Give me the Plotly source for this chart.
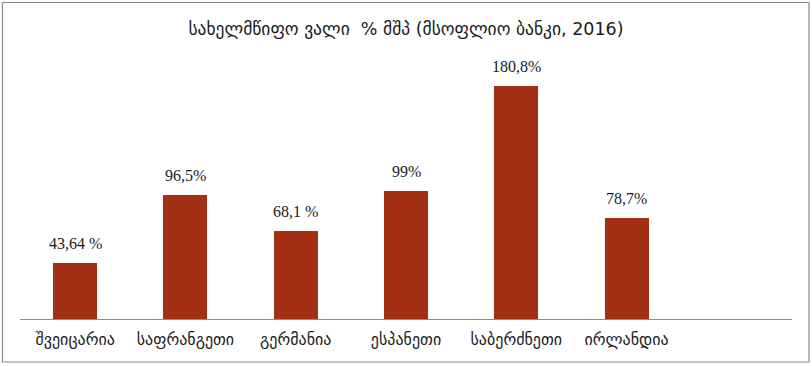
import plotly.graph_objects as go

categories = ["შვეიცარია", "საფრანგეთი", "გერმანია", "ესპანეთი", "საბერძნეთი", "ირლანდია"]
values = [43.64, 96.5, 68.1, 99, 180.8, 78.7]
labels = ["43,64 %", "96,5%", "68,1 %", "99%", "180,8%", "78,7%"]
title = "სახელმწიფო ვალი  % მშპ (მსოფლიო ბანკი, 2016)"

x = list(range(len(categories)))

fig = go.Figure(go.Bar(
    x=x, y=values, width=0.4,
    marker=dict(color="#A33015", line=dict(width=0)),
    hoverinfo="skip",
))

for xi, yi, lab in zip(x, values, labels):
    fig.add_annotation(x=xi, y=yi, text=lab, showarrow=False,
                       xanchor="center", yanchor="bottom", yshift=9,
                       font=dict(family="Liberation Serif", size=16, color="#1a1a1a"))

fig.update_layout(
    width=812, height=366,
    margin=dict(l=20, r=20, t=60, b=47),
    paper_bgcolor="white", plot_bgcolor="white",
    title=dict(text=title, x=0.5, xanchor="center", y=0.922, yanchor="middle",
               font=dict(family="DejaVu Sans", size=17.5, color="#1a1a1a")),
    showlegend=False,
    bargap=0,
    xaxis=dict(tickmode="array", tickvals=x, ticktext=categories, range=[-0.5, 6.5],
               showline=True, linecolor="#8c8c8c", linewidth=1, ticks="",
               showgrid=False, zeroline=False, ticklabelstandoff=6,
               tickfont=dict(family="DejaVu Sans", size=16, color="#1a1a1a")),
    yaxis=dict(range=[0, 201], visible=False, showgrid=False, zeroline=False),
    shapes=[dict(type="rect", xref="paper", yref="paper",
                 x0=-0.0227, x1=1.022, y0=-0.166, y1=1.222,
                 line=dict(color="#8a8a8a", width=1.2))],
)

fig.write_html("out.html", config={"displayModeBar": False},
               post_script="document.body.style.margin='0';document.body.style.overflow='hidden';")
